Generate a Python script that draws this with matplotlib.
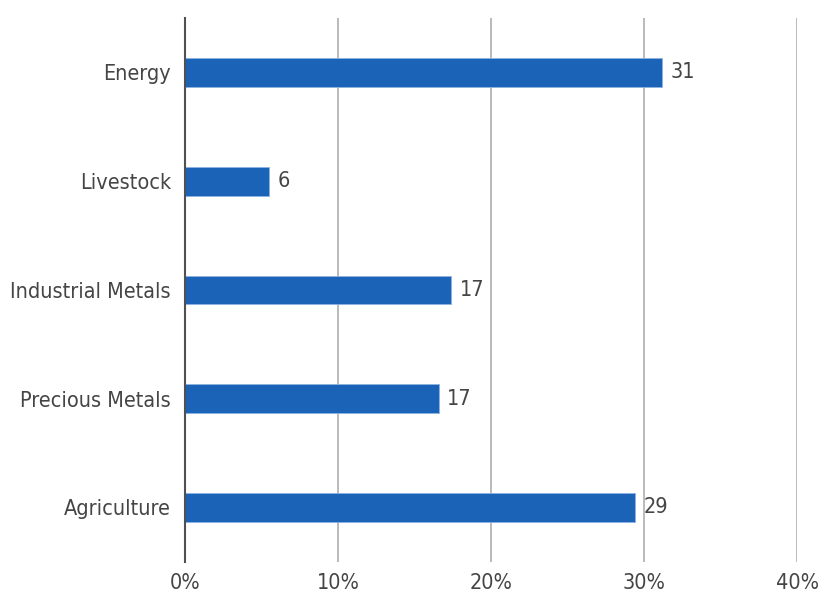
import matplotlib.pyplot as plt
from matplotlib.ticker import FuncFormatter

# categories from top to bottom in the picture
sectors = ["Energy", "Livestock", "Industrial Metals", "Precious Metals", "Agriculture"]
weights = [31.2, 5.5, 17.4, 16.6, 29.4]
labels = ["31", "6", "17", "17", "29"]

plt.rcParams['font.family'] = ['DejaVu Sans']
plt.rcParams['font.stretch'] = 'condensed'

fig = plt.figure(figsize=(8.21, 5.99), dpi=100)
ax = fig.add_axes([0.2253, 0.062, 0.7455, 0.908])

y = list(range(len(sectors)))[::-1]
ax.barh(y, weights, height=0.265, color='#1b63b7', edgecolor='#8fb3e0', linewidth=0.6, zorder=3)

for yi, w, lab in zip(y, weights, labels):
    ax.text(w + 0.55, yi, lab, va='center', ha='left', fontsize=15.5, color='#454545')

ax.set_xlim(0, 40)
ax.set_ylim(-0.5, 4.5)
ax.set_xticks([0, 10, 20, 30, 40])
ax.xaxis.set_major_formatter(FuncFormatter(lambda x, _: f'{int(x)}%'))
ax.set_yticks(y)
ax.set_yticklabels(sectors)
ax.tick_params(axis='both', length=0, labelsize=15.5, labelcolor='#454545')
ax.tick_params(axis='x', pad=8)
ax.tick_params(axis='y', pad=10)

ax.grid(axis='x', color='#b4b4b4', linewidth=1.3, zorder=0)
ax.set_axisbelow(True)
for s in ['top', 'right', 'bottom']:
    ax.spines[s].set_visible(False)
ax.spines['left'].set_color('#505050')
ax.spines['left'].set_linewidth(1.5)
ax.spines['left'].set_zorder(4)

plt.savefig("out.png", dpi=100)
